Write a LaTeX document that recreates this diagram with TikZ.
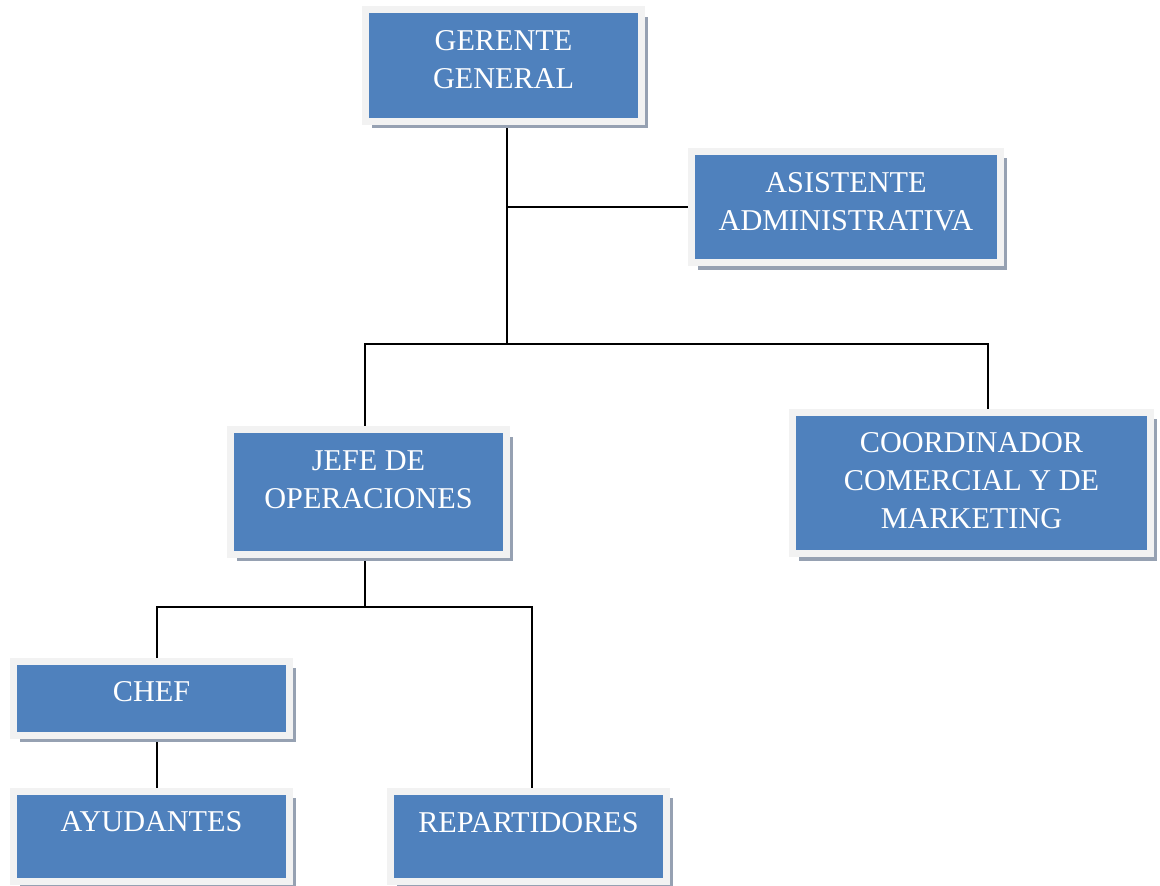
\documentclass[tikz,border=0pt]{standalone}
\usepackage{fontspec}
\setmainfont{Liberation Serif}
\usetikzlibrary{shadows,backgrounds}
\definecolor{azul}{RGB}{79,129,189}
\definecolor{marco}{RGB}{242,242,242}
\definecolor{sombra}{RGB}{150,161,178}
\tikzset{
  cargo/.style={rectangle, fill=azul, draw=marco, line width=0.14cm, inner sep=0pt,
    drop shadow={shadow xshift=0.13cm, shadow yshift=-0.14cm, fill=sombra, opacity=1}},
  rotulo/.style={text=white, align=center, inner sep=0pt,
    font={\fontsize{17.2}{21.6}\selectfont}},
  linea/.style={line width=0.04cm, black}
}
\begin{document}
\begin{tikzpicture}[x=0.02cm, y=-0.02cm]
\useasboundingbox (0,0) rectangle (1160,886);
\node[cargo, minimum width=5.52cm, minimum height=2.24cm] (gg) at (503.5,65.5) {};
\node[rotulo] (ggt) at ([yshift=0.11cm]gg.center) {GERENTE\\GENERAL};
\node[cargo, minimum width=6.2cm, minimum height=2.24cm] (aa) at (846,207) {};
\node[rotulo] (aat) at ([yshift=0.11cm]aa.center) {ASISTENTE\\ADMINISTRATIVA};
\node[cargo, minimum width=5.52cm, minimum height=2.49cm] (jo) at (368.5,492) {};
\node[rotulo] (jot) at ([yshift=0.24cm]jo.center) {JEFE DE\\OPERACIONES};
\node[cargo, minimum width=7.18cm, minimum height=2.83cm] (cc) at (971.5,483) {};
\node[rotulo] (cct) at ([yshift=0.04cm]cc.center) {COORDINADOR\\COMERCIAL Y DE\\MARKETING};
\node[cargo, minimum width=5.52cm, minimum height=1.48cm] (ch) at (151.5,698) {};
\node[rotulo] (cht) at ([yshift=0.13cm]ch.center) {CHEF};
\node[cargo, minimum width=5.52cm, minimum height=1.8cm] (ay) at (151.5,836) {};
\node[rotulo] (ayt) at ([yshift=0.28cm]ay.center) {AYUDANTES};
\node[cargo, minimum width=5.52cm, minimum height=1.8cm] (rp) at (528.5,836) {};
\node[rotulo] (rpt) at ([yshift=0.27cm]rp.center) {REPARTIDORES};
\coordinate (r1) at (507,344);
\coordinate (xc) at (988,344);
\coordinate (xj) at (365,607);
\coordinate (xch) at (157,607);
\coordinate (xr) at (532,607);
\begin{scope}[on background layer]
\draw[linea] (gg.south -| r1) -- (r1);
\draw[linea] (aa.west) -- (aa.west -| r1);
\draw[linea] (jo.north -| xj) |- (r1) -- (xc) -- (cc.north -| xc);
\draw[linea] (jo.south -| xj) -- (xj);
\draw[linea] (ch.north -| xch) -- (xch) -- (xr) -- (rp.north -| xr);
\draw[linea] (ch.south -| xch) -- (ay.north -| xch);
\end{scope}
\end{tikzpicture}
\end{document}
